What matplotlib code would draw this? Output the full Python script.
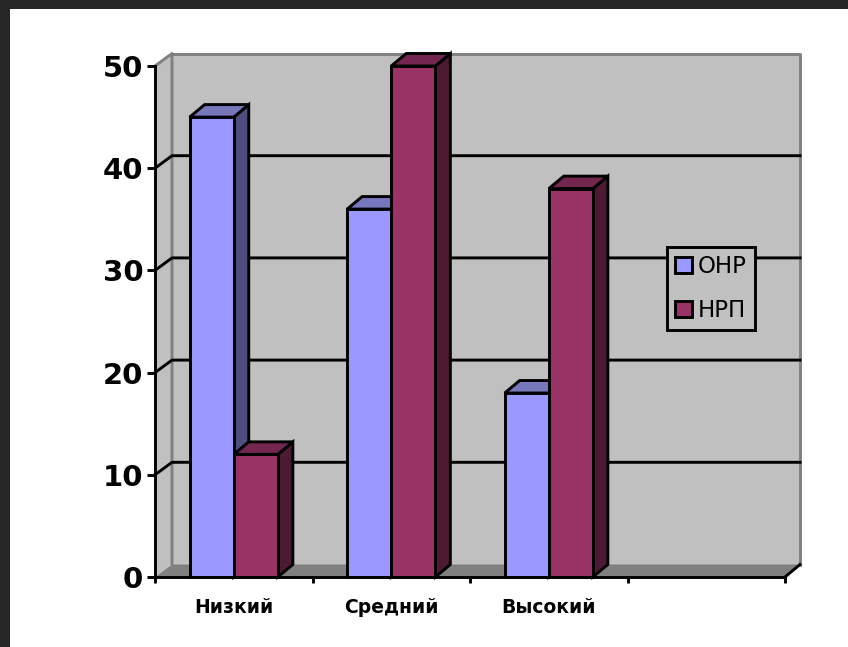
import matplotlib
matplotlib.use("Agg")
import matplotlib.pyplot as plt
from matplotlib.patches import Rectangle

categories = ["Низкий", "Средний", "Высокий"]
onr = [45, 36, 18]
nrp = [12, 50, 38]
yticks = [0, 10, 20, 30, 40, 50]

W, H = 848, 647
# depth of the fake 3d box, in data units
dx = 15 / 157.5
dleft = 17 / 157.5
dy = 12.5 / 10.22
bw = 0.28
lw = 2.1

fig = plt.figure(figsize=(W / 100, H / 100), dpi=100, facecolor="#262626")
fig.patches.append(Rectangle((10 / W, 0), 1, 1 - 9 / H, transform=fig.transFigure,
                             facecolor="white", edgecolor="none", zorder=-1))
ax = fig.add_axes([155 / W, 1 - 577 / H, 630 / W, 511 / H])
ax.set_xlim(0, 4)
ax.set_ylim(0, 50)
ax.patch.set_visible(False)


def poly(xs, ys, color, edge="black", z=2, width=lw):
    ax.fill(xs, ys, facecolor=color, edgecolor=edge, linewidth=width,
            clip_on=False, zorder=z, joinstyle="miter")


# walls and floor
poly([0, dleft, dleft, 0], [0, dy, 50 + dy, 50], "#c0c0c0", "none", 1)
poly([dleft, 4 + dx, 4 + dx, dleft], [dy, dy, 50 + dy, 50 + dy], "#c0c0c0", "none", 1)
poly([0, 4, 4 + dx, dleft], [0, 0, dy, dy], "#808080", "none", 1.1)
ax.plot([0, dleft, dleft], [50, 50 + dy, dy], color="#808080", lw=lw, clip_on=False, zorder=1.2)
ax.plot([dleft, 4 + dx, 4 + dx], [50 + dy, 50 + dy, dy], color="#808080", lw=lw, clip_on=False, zorder=1.2)
ax.plot([4, 4 + dx], [0, dy], color="black", lw=lw, clip_on=False, zorder=1.3)

for v in yticks[1:-1]:
    ax.plot([0, dleft, 4 + dx], [v, v + dy, v + dy], color="black", lw=lw, clip_on=False, zorder=1.5)


def bar3d(x, h, front, top, side, label):
    poly([x + bw, x + bw + dx, x + bw + dx, x + bw], [0, dy, h + dy, h], side)
    poly([x, x + dx, x + bw + dx, x + bw], [h, h + dy, h + dy, h], top)
    return ax.bar(x, h, bw, align="edge", color=front, edgecolor="black", linewidth=lw,
                  clip_on=False, zorder=2, label=label)


handles = []
for i in range(len(categories)):
    a = bar3d(i + 0.5 - bw, onr[i], "#9999ff", "#7777bb", "#4d4d80", "ОНР")
    b = bar3d(i + 0.5, nrp[i], "#993366", "#732650", "#4d1a33", "НРП")
    if i == 0:
        handles = [a, b]

for s in ["top", "right"]:
    ax.spines[s].set_visible(False)
for s in ["left", "bottom"]:
    ax.spines[s].set_linewidth(lw)
    ax.spines[s].set_zorder(3)

ax.set_yticks(yticks)
ax.tick_params(axis="y", length=5.5, width=lw, pad=3, labelsize=21)
for t in ax.get_yticklabels():
    t.set_fontweight("bold")

ax.set_xticks([0, 1, 2, 3, 4])
ax.set_xticklabels([])
ax.tick_params(axis="x", which="major", length=4.5, width=lw)
ax.set_xticks([0.5, 1.5, 2.5], minor=True)
ax.set_xticklabels(categories, minor=True, fontsize=13.5, fontweight="bold")
ax.tick_params(axis="x", which="minor", length=0, pad=15)

leg = ax.legend(handles=handles, loc="upper left",
                bbox_to_anchor=((667 - 155) / 630, (577 - 247) / 511),
                fontsize=16.5, fancybox=False, framealpha=1, facecolor="#c0c0c0",
                edgecolor="black", handlelength=0.72, handleheight=0.72,
                handletextpad=0.25, labelspacing=0.9, borderpad=0.36, borderaxespad=0)
leg.get_frame().set_linewidth(lw)
leg.set_zorder(5)

fig.savefig("out.png", dpi=100, facecolor=fig.get_facecolor())
